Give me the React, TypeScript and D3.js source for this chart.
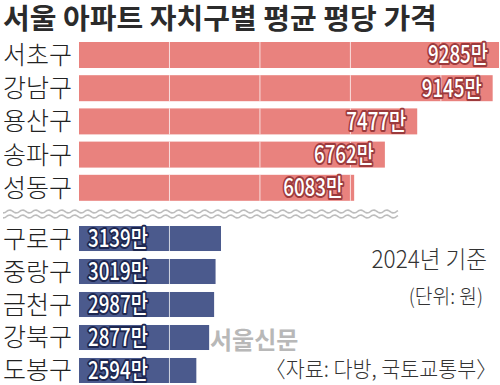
import React, { useEffect, useRef } from 'react';
import * as d3 from 'd3';

const topDistricts = ['서초구', '강남구', '용산구', '송파구', '성동구'];
const topValues = [9285, 9145, 7477, 6762, 6083];
const bottomDistricts = ['구로구', '중랑구', '금천구', '강북구', '도봉구'];
const bottomValues = [3139, 3019, 2987, 2877, 2594];
const gridTicks = [2000, 4000, 6000, 8000];

const title = '서울 아파트 자치구별 평균 평당 가격';
const baseYear = '2024년 기준';
const unitNote = '(단위: 원)';
const sourceNote = '〈자료: 다방, 국토교통부〉';
const watermark = '서울신문';

const WIDTH = 500;
const HEIGHT = 385;
const KR = "'Noto Sans CJK KR', 'Noto Sans', sans-serif";

export default function App() {
  const svgRef = useRef<SVGSVGElement>(null);

  useEffect(() => {
    if (!svgRef.current) return;
    const svg = d3.select(svgRef.current);
    svg.selectAll('*').remove();

    svg.append('rect').attr('width', WIDTH).attr('height', HEIGHT).attr('fill', '#fff');

    const x = d3.scaleLinear().domain([0, 9285]).range([79, 499]);
    const yTop = d3.scaleBand().domain(topDistricts).range([42, 200.8]).paddingInner(0.217).paddingOuter(0);
    const yBot = d3.scaleBand().domain(bottomDistricts).range([226, 383]).paddingInner(0.242).paddingOuter(0);

    // condensed text helper
    const narrowText = (
      parent: d3.Selection<any, unknown, null, undefined>,
      tx: number, ty: number, sx: number, anchor: string, size: number, fill: string, txt: string
    ) => parent.append('text')
      .attr('transform', `translate(${tx},${ty}) scale(${sx},1)`)
      .attr('text-anchor', anchor)
      .style('font-family', KR).style('font-size', `${size}px`)
      .attr('fill', fill)
      .text(txt);

    // title
    narrowText(svg as any, 3, 28.5, 1.02, 'start', 28.5, '#2b2b2b', title).style('font-weight', 700);

    const drawGroup = (
      names: string[],
      values: number[],
      y: d3.ScaleBand<string>,
      fill: string,
      outline: string,
      labelInside: 'end' | 'start'
    ) => {
      const g = svg.append('g');
      const rows = names.map((n, i) => ({ name: n, value: values[i] }));
      const bh = y.bandwidth();

      g.selectAll('rect.bar').data(rows).enter().append('rect')
        .attr('class', 'bar')
        .attr('x', x(0)).attr('y', d => y(d.name)!)
        .attr('width', d => x(d.value) - x(0)).attr('height', bh)
        .attr('fill', fill);

      // white gridlines inside bars
      rows.forEach(d => {
        gridTicks.filter(t => t < d.value).forEach(t => {
          g.append('line')
            .attr('x1', x(t)).attr('x2', x(t))
            .attr('y1', y(d.name)!).attr('y2', y(d.name)! + bh)
            .attr('stroke', '#fff').attr('stroke-opacity', 0.75).attr('stroke-width', 1);
        });
      });

      // category labels
      g.selectAll('text.cat').data(rows).enter().append('text')
        .attr('class', 'cat')
        .attr('x', 3).attr('y', d => y(d.name)! + bh / 2 + 9)
        .style('font-family', KR).style('font-size', '25px').style('font-weight', 300)
        .attr('fill', '#222')
        .text(d => d.name);

      // value labels
      rows.forEach(d => {
        const tx = labelInside === 'end' ? x(d.value) - 11 : x(0) + 9;
        narrowText(g, tx, y(d.name)! + bh / 2 + 8.5, 0.78, labelInside, 24, '#fff', `${d.value}만`)
          .style('font-weight', 500)
          .style('paint-order', 'stroke')
          .attr('stroke', outline).attr('stroke-width', 4).attr('stroke-linejoin', 'round');
      });
    };

    drawGroup(topDistricts, topValues, yTop, '#e9827e', '#9c3a3c', 'end');
    drawGroup(bottomDistricts, bottomValues, yBot, '#4b5a8d', '#1d2750', 'start');

    // wavy separator
    const wave = (y0: number) => {
      const pts: [number, number][] = [];
      for (let px = 3; px <= 398; px += 1) {
        pts.push([px, y0 + 1.4 * Math.sin((px / 13) * 2 * Math.PI)]);
      }
      svg.append('path')
        .attr('d', d3.line()(pts)!)
        .attr('fill', 'none').attr('stroke', '#bdbdbd').attr('stroke-width', 1.6);
    };
    wave(211.5);
    wave(216.5);

    // notes
    narrowText(svg as any, 487, 268, 0.94, 'end', 24, '#333', baseYear).style('font-weight', 300);
    narrowText(svg as any, 483, 304, 0.94, 'end', 20.5, '#333', unitNote).style('font-weight', 300);
    svg.append('text')
      .attr('x', 210).attr('y', 349)
      .style('font-family', KR).style('font-weight', 700).style('font-size', '24px').attr('fill', '#b8b8b8')
      .text(watermark);
    narrowText(svg as any, 497, 377, 0.94, 'end', 22, '#333', sourceNote).style('font-weight', 300);
  }, []);

  return (
    <svg
      ref={svgRef}
      width={WIDTH}
      height={HEIGHT}
      style={{ display: 'block', position: 'absolute', left: 0, top: 0 }}
    />
  );
}
